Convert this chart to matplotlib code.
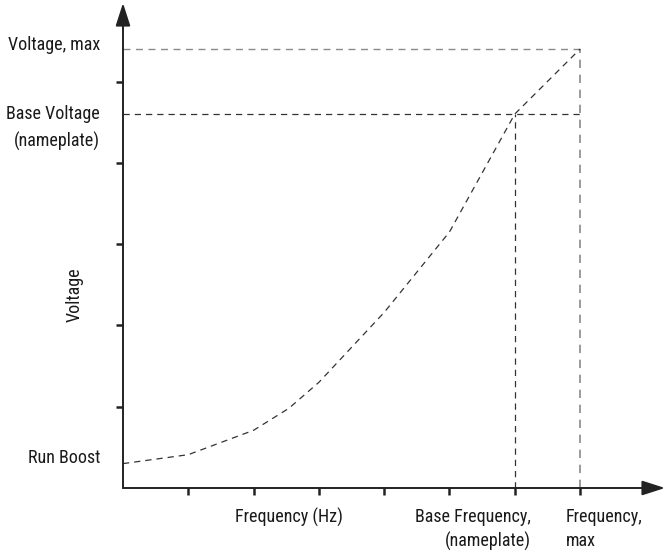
import matplotlib.pyplot as plt

# curve (x in frequency ticks, y in voltage ticks)
freq = [0, 1.0, 2.0, 2.54, 3.0, 4.0, 5.0, 6.0, 7.0]
volt = [0.30, 0.41, 0.71, 0.98, 1.30, 2.16, 3.15, 4.60, 5.40]

x_ticks = [1, 2, 3, 4, 5, 6, 7]
y_ticks = [1, 2, 3, 4, 5]
base_freq, max_freq = 6.0, 7.0
base_volt, max_volt = 4.60, 5.40

plt.rcParams['font.family'] = ['Roboto Condensed', 'DejaVu Sans']

W, H = 665, 556
fig = plt.figure(figsize=(W / 100, H / 100), dpi=100)
x0, x1, y0, y1 = 123, 665, 488, 3
ax = fig.add_axes([x0 / W, (H - y0) / H, (x1 - x0) / W, (y0 - y1) / H])
xmax = (x1 - x0) / 65.3
ymax = (y0 - y1) / 81.3
ax.set_xlim(0, xmax)
ax.set_ylim(0, ymax)

for s in ['top', 'right', 'left', 'bottom']:
    ax.spines[s].set_visible(False)

axis_col = '#222222'
arrow = dict(arrowstyle='-|>,head_length=1.4,head_width=0.45', color=axis_col, lw=1.4,
             shrinkA=0, shrinkB=0)
ax.annotate('', xy=(0, ymax), xytext=(0, 0), arrowprops=arrow, annotation_clip=False)
ax.annotate('', xy=(xmax, 0), xytext=(0, 0), arrowprops=arrow, annotation_clip=False)

ax.set_xticks(x_ticks)
ax.set_yticks(y_ticks)
ax.set_xticklabels([])
ax.set_yticklabels([])
ax.tick_params(direction='out', length=5, width=1.8, color=axis_col)

# guide lines
light = '#8a8a8a'
dark = '#333333'
dash = (0, (5, 4))
ax.plot([0, max_freq], [max_volt, max_volt], ls=dash, color=light, lw=1)
ax.plot([max_freq, max_freq], [0, max_volt], ls=dash, color=light, lw=1.2)
ax.plot([0, max_freq], [base_volt, base_volt], ls=dash, color=dark, lw=0.9)
ax.plot([base_freq, base_freq], [0, base_volt], ls=dash, color=dark, lw=0.9)

ax.plot(freq, volt, ls=dash, color=dark, lw=0.9)

def px(x, y):
    return (x - x0) / 65.3, (y0 - y) / 81.3

kw = dict(fontsize=13, color='#1a1a1a', clip_on=False)
ax.text(*px(100, 45), 'Voltage, max', ha='right', va='center', **kw)
ax.text(*px(100, 114), 'Base Voltage', ha='right', va='center', **kw)
ax.text(*px(100, 141), '(nameplate)', ha='right', va='center', **kw)
ax.text(*px(100, 458), 'Run Boost', ha='right', va='center', **kw)
ax.text(*px(75, 295), 'Voltage', ha='center', va='center', rotation=90, **kw)
ax.text(*px(289, 517), 'Frequency (Hz)', ha='center', va='center', **kw)
ax.text(*px(531, 517), 'Base Frequency,', ha='right', va='center', **kw)
ax.text(*px(531, 541), '(nameplate)', ha='right', va='center', **kw)
ax.text(*px(566, 517), 'Frequency,', ha='left', va='center', **kw)
ax.text(*px(566, 541), 'max', ha='left', va='center', **kw)

fig.savefig('out.png', dpi=100)
